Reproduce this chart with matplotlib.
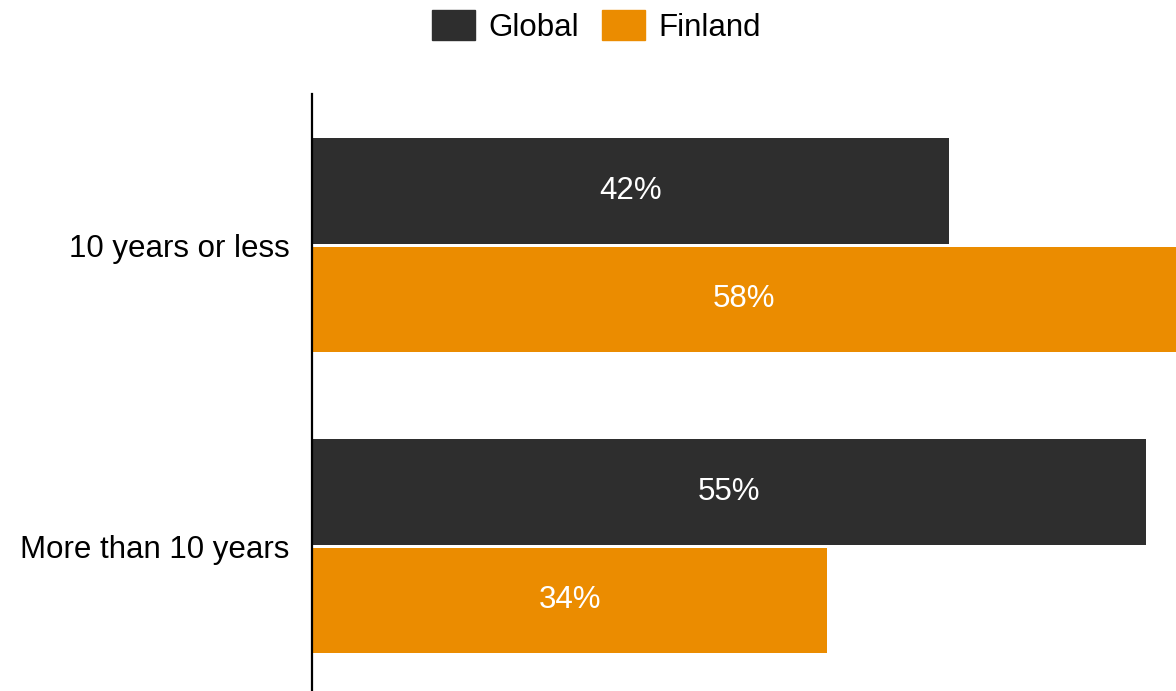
import numpy as np
import matplotlib.pyplot as plt
from matplotlib.patches import Patch

plt.rcParams['font.family'] = ['Liberation Sans', 'DejaVu Sans']

# data
categories = ['10 years or less', 'More than 10 years']
series = ['Global', 'Finland']
global_vals = [42, 55]
finland_vals = [58, 34]
colors = ['#2e2e2e', '#eb8c00']

fig = plt.figure(figsize=(11.76, 6.91), dpi=100)
ax = fig.add_axes([312/1176, 1/691, 864/1176, 596/691])

y = np.arange(len(categories))
h = 0.35
gap = 0.005
b1 = ax.barh(y - h/2 - gap, global_vals, height=h, color=colors[0])
b2 = ax.barh(y + h/2 + gap, finland_vals, height=h, color=colors[1])

# right edge of the visible x range (the 58% bar runs off the chart)
xmax = 57.0
for bars, vals in [(b1, global_vals), (b2, finland_vals)]:
    for bar, v in zip(bars, vals):
        xc = min(v, xmax) / 2
        ax.text(xc, bar.get_y() + bar.get_height()/2, f"{v}%",
                ha='center', va='center', color='white', fontsize=22.5)

ax.set_xlim(0, xmax)
ax.set_ylim(1.478, -0.502)
ax.set_yticks(y)
ax.set_yticklabels(categories, fontsize=22.5)
ax.tick_params(axis='y', length=0, pad=16)
ax.set_xticks([])
for s in ['top', 'right', 'bottom']:
    ax.spines[s].set_visible(False)
ax.spines['left'].set_linewidth(1.6)
ax.spines['left'].set_color('black')

handles = [Patch(color=c, label=s) for c, s in zip(colors, series)]
fig.legend(handles=handles, loc='upper center', bbox_to_anchor=(0.507, 1.026),
           ncol=2, frameon=False, fontsize=22.5, handlelength=1.38, handleheight=1.08,
           handletextpad=0.42, columnspacing=0.73)

fig.savefig('out.png', dpi=100)
